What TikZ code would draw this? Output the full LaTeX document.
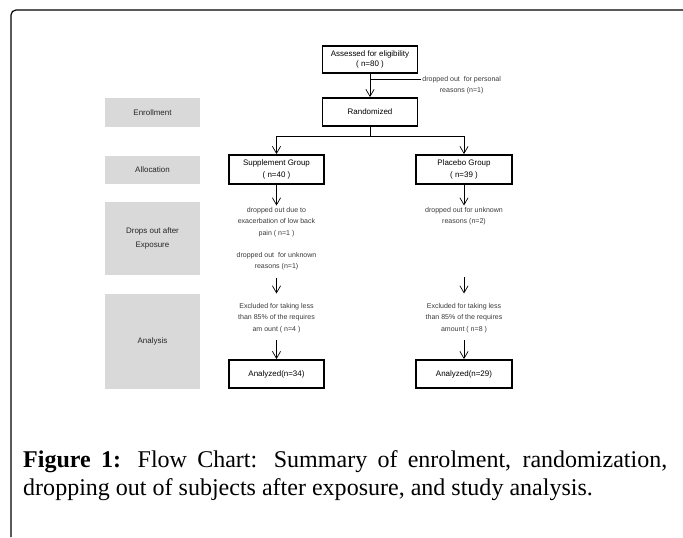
\documentclass[tikz,border=0pt]{standalone}
\usepackage{fontspec}
\setmainfont{Liberation Serif}
\newfontfamily\chartfont{Liberation Sans}
\usetikzlibrary{arrows.meta}
\definecolor{StageGrey}{HTML}{D9D9D9}
\definecolor{NoteInk}{HTML}{3A3A3A}
\newcommand{\boxfont}{\chartfont\fontsize{6.8}{8}\selectfont}
\newcommand{\widefont}{\chartfont\fontsize{6.8}{11.9}\selectfont}
\newcommand{\notefont}{\chartfont\fontsize{6}{10}\selectfont}

\tikzset{
  flowbox/.style={draw, line width=1.6pt, minimum width=2.85cm, minimum height=0.84cm,
    inner sep=0pt, align=center, font=\boxfont},
  stage/.style={fill=StageGrey, minimum width=2.85cm, inner sep=0pt, align=center,
    text=black!85, font=\widefont},
  note/.style={align=center, inner sep=1pt, text=NoteInk, font=\notefont},
  link/.style={line width=.6pt},
  arr/.style={link, -{Straight Barb[length=6pt,width=7pt]}},
}

\begin{document}
\begin{tikzpicture}[x=0.03cm,y=-0.03cm]
\useasboundingbox (0,0) rectangle (683,537);
% frame
\draw[line width=1pt,rounded corners=0.15cm] (11,537) -- (11,10) -- (683,10);

% stage labels
\node[stage,minimum height=0.87cm] (enrol) at (152.5,112.5) {Enrollment};
\node[stage,minimum height=0.84cm] (alloc) at (152.5,170) {Allocation};
\node[stage,minimum height=2.19cm] (drops) at (152.5,238.5) {Drops out after\\Exposure};
\node[stage,minimum height=2.85cm] (anal) at (152.5,341.5) {Analysis};

% boxes
\node[flowbox,minimum height=0.81cm] (assess) at (370,59.5) {Assessed for eligibility\\( n=80 )};
\node[flowbox] (random) at (370,112) {Randomized};
\node[flowbox,minimum height=0.87cm,font=\widefont] (supp) at (276.5,169.5) {Supplement Group\\[-1pt]( n=40 )};
\node[flowbox,minimum height=0.87cm,minimum width=2.88cm,font=\widefont] (plac) at (464,169.5) {Placebo Group\\[-1pt]( n=39 )};
\node[flowbox] (anaL) at (276.5,374) {Analyzed(n=34)};
\node[flowbox,minimum width=2.88cm] (anaR) at (464,374) {Analyzed(n=29)};

% notes
\node[note,anchor=west] (personal) at (421,85.3) {dropped out\ \ for personal\\reasons (n=1)};
\node[note,anchor=north] (dropL) at (276.5,205.5) {dropped out due to\\exacerbation of low back\\pain ( n=1 )\\[8.5pt]dropped out\ \ for unknown\\reasons (n=1)};
\node[note,anchor=north] (dropR) at (464,205.5) {dropped out for unknown\\reasons (n=2)};
\node[note,anchor=north] (exclL) at (276.5,301.5) {Excluded for taking less\\than 85\% of the requires\\am ount ( n=4 )};
\node[note,anchor=north] (exclR) at (464,301.5) {Excluded for taking less\\than 85\% of the requires\\amount ( n=8 )};

% connectors
\coordinate (side) at (370,79);
\coordinate (split) at (370,136);
\draw[arr] (assess) -- (random);
\draw[link] (side) -- (personal.west |- side);
\draw[link] (random) -- (split);
\draw[arr] (split) -| (supp);
\draw[arr] (split) -| (plac);
\draw[arr] (supp) -- (dropL);
\draw[arr] (plac) -- (dropR);
\draw[arr,shorten <=0.18cm,shorten >=0.24cm] (dropL) -- (exclL);
\draw[arr,shorten <=1.52cm,shorten >=0.24cm] (dropR) -- (exclR);
\draw[arr,shorten <=0.18cm] (exclL) -- (anaL);
\draw[arr,shorten <=0.18cm] (exclR) -- (anaR);

% caption
\node[anchor=north west,text width=19.32cm,align=justify,inner sep=0pt,
  font=\fontsize{20.5}{23.8}\selectfont] (caption) at (23,450)
  {\textbf{Figure 1:} Flow Chart: Summary of enrolment, randomization,\linebreak
   dropping out of subjects after exposure, and study analysis.};
\end{tikzpicture}
\end{document}
